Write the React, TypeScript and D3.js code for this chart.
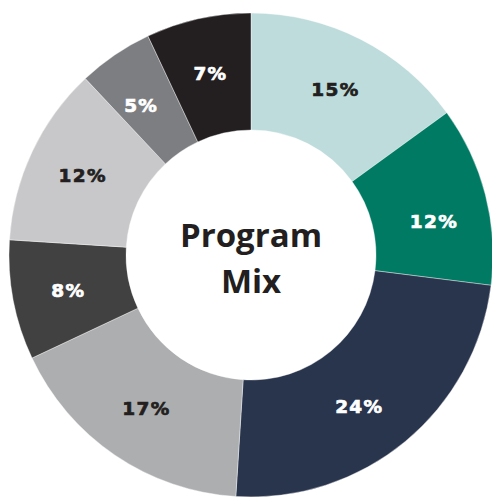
import React from "react";
import * as d3 from "d3";

const categories = ["A", "B", "C", "D", "E", "F", "G", "H"];
const values = [15, 12, 24, 17, 8, 12, 5, 7];
const labels = ["15%", "12%", "24%", "17%", "8%", "12%", "5%", "7%"];
const colors = ["#bfdcdc", "#007a63", "#29344d", "#adaeb0", "#414142", "#c8c8ca", "#7d7e81", "#231f20"];
const textColors = ["#231f20", "#ffffff", "#ffffff", "#231f20", "#ffffff", "#231f20", "#ffffff", "#ffffff"];
// small angular nudges (degrees) for label placement
const labelNudge = [0, 4, 4, 0, 0, 0, -2, 0];
const titleLines = ["Program", "Mix"];

const W = 492;
const H = 498;
const cx = 251;
const cy = 255;
const outerR = 242;
const innerR = 125;
const labelR = 186;

export default function App() {
  const pie = d3.pie<number>().sort(null).value((d) => d);
  const arcs = pie(values);
  const arc = d3.arc<d3.PieArcDatum<number>>().innerRadius(innerR).outerRadius(outerR);
  return (
    <svg width={W} height={H} style={{ position: "absolute", left: 0, top: 0 }}>
      <g transform={`translate(${cx},${cy})`}>
        {arcs.map((a, i) => (
          <path key={categories[i]} d={arc(a) || ""} fill={colors[i]} stroke="#ffffff" strokeWidth={0.4} />
        ))}
        {arcs.map((a, i) => {
          const mid = (a.startAngle + a.endAngle) / 2 + (labelNudge[i] * Math.PI) / 180;
          const x = labelR * Math.sin(mid);
          const y = -labelR * Math.cos(mid);
          return (
            <text
              key={"l" + i}
              x={x}
              y={y}
              dy="0.36em"
              textAnchor="middle"
              fill={textColors[i]}
              stroke={textColors[i]}
              strokeWidth={0.7}
              fontFamily="DejaVu Sans"
              fontWeight={700}
              fontSize={18.5}
              letterSpacing={1.3}
            >
              {labels[i]}
            </text>
          );
        })}
        {titleLines.map((t, i) => (
          <text
            key={"t" + i}
            x={0}
            y={-8 + i * 46}
            textAnchor="middle"
            fill="#231f20"
            fontFamily="Open Sans"
            fontWeight={700}
            fontSize={33}
          >
            {t}
          </text>
        ))}
      </g>
    </svg>
  );
}
